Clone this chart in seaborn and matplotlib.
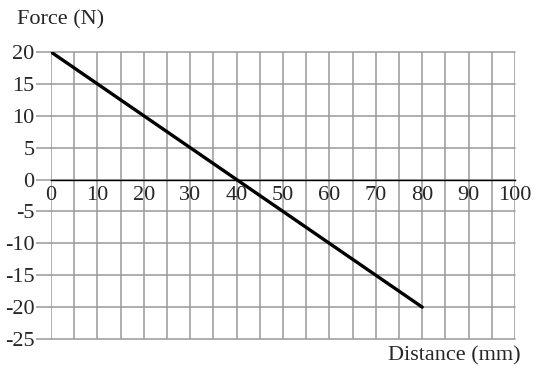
import matplotlib
matplotlib.use("Agg")
import matplotlib.pyplot as plt
import numpy as np
import pandas as pd
import seaborn as sns

sns.set_style("white")
plt.rcParams["font.family"] = ["Liberation Serif", "DejaVu Serif"]

# data
distance = [0, 80]
force = [20, -20]
x_ticks = [0, 10, 20, 30, 40, 50, 60, 70, 80, 90, 100]
y_ticks = [-25, -20, -15, -10, -5, 0, 5, 10, 15, 20]

df = pd.DataFrame({"Distance": distance, "Force": force})

fig = plt.figure(figsize=(5.37, 3.74), dpi=100)
ax = fig.add_axes([51 / 537, 1 - 339 / 374, 464 / 537, 287 / 374])

sns.lineplot(data=df, x="Distance", y="Force", ax=ax, color="black",
             linewidth=2.4, zorder=5)

ax.set_xlim(0, 100)
ax.set_ylim(-25, 20)
ax.set_xticks(x_ticks)
ax.set_xticks(np.arange(5, 100, 10), minor=True)
ax.set_yticks(y_ticks)
ax.set_yticklabels([str(v) for v in y_ticks])

# grid
grid_kw = dict(color="#999999", linewidth=1.1)
ax.grid(True, which="both", axis="x", **grid_kw)
ax.grid(True, which="major", axis="y", **grid_kw)
for gl in ax.get_xgridlines() + ax.get_ygridlines():
    gl.set_clip_on(False)

# zero line as x axis
ax.spines["bottom"].set_position(("data", 0))
ax.spines["bottom"].set_color("black")
ax.spines["bottom"].set_linewidth(1.0)
ax.spines["bottom"].set_zorder(4)
ax.spines["top"].set_visible(False)
ax.spines["right"].set_visible(False)
ax.spines["left"].set_visible(False)

ax.tick_params(axis="x", which="both", length=0, pad=5, labelsize=16)
ax.tick_params(axis="y", length=11, width=1.1, color="#999999", pad=1,
               labelsize=16, left=True)

ax.set_xlabel("")
ax.set_ylabel("")
fig.text(17 / 537, 1 - 20 / 374, "Force (N)", fontsize=16, ha="left", va="center")
fig.text(521 / 537, 1 - 356 / 374, "Distance (mm)", fontsize=16, ha="right", va="center")

fig.savefig("out.png", dpi=100)
